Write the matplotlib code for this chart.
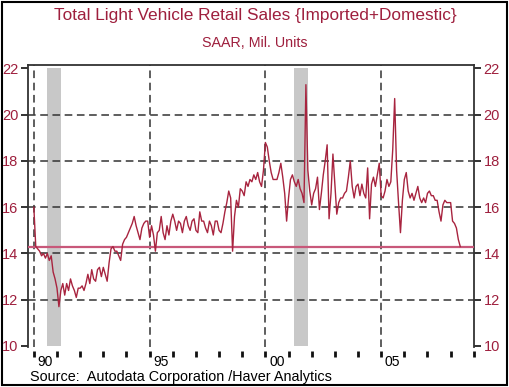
import numpy as np
import matplotlib
matplotlib.use("Agg")
import matplotlib.pyplot as plt
from matplotlib.patches import Rectangle

plt.rcParams['font.family'] = ['Liberation Sans', 'DejaVu Sans']

# monthly SAAR, mil. units, Jan 1990 .. Jun 2008
sales_1990 = [16.0, 14.3, 14.2, 14.1, 13.9, 14.0, 13.8, 14.0, 13.7, 13.9, 13.2, 12.9]
sales_1991 = [12.5, 11.7, 12.4, 12.7, 12.2, 12.7, 12.4, 12.9, 12.6, 12.4, 12.1, 12.5]
sales_1992 = [12.5, 12.6, 12.4, 12.7, 13.1, 12.7, 13.3, 12.9, 12.8, 13.3, 13.4, 13.0]
sales_1993 = [13.4, 13.1, 12.8, 13.6, 14.2, 14.3, 14.1, 14.1, 13.9, 13.7, 14.4, 14.6]
sales_1994 = [14.7, 14.9, 15.1, 15.3, 15.6, 15.2, 14.9, 14.6, 15.1, 15.3, 15.4, 15.4]
sales_1995 = [14.7, 15.2, 14.8, 14.1, 14.9, 15.0, 15.6, 14.9, 14.6, 15.2, 14.8, 15.4]
sales_1996 = [15.7, 15.4, 15.0, 15.4, 15.3, 14.9, 15.4, 15.6, 15.2, 15.0, 15.4, 15.5]
sales_1997 = [15.0, 14.9, 15.8, 15.4, 15.4, 15.1, 14.9, 15.4, 15.2, 14.8, 15.4, 15.4]
sales_1998 = [15.0, 14.9, 15.3, 15.8, 16.2, 16.7, 16.4, 14.1, 15.6, 16.3, 16.0, 16.8]
sales_1999 = [16.7, 16.5, 17.1, 16.9, 17.2, 17.1, 17.4, 17.2, 17.5, 17.1, 16.9, 17.6]
sales_2000 = [18.8, 18.6, 18.0, 17.5, 17.2, 17.2, 17.2, 17.5, 17.9, 17.3, 16.6, 15.4]
sales_2001 = [16.4, 17.2, 17.4, 17.1, 16.9, 17.2, 16.8, 16.6, 16.2, 21.3, 17.6, 16.7]
sales_2002 = [16.1, 16.6, 16.8, 17.3, 15.9, 16.6, 17.4, 18.0, 18.7, 15.5, 16.6, 18.3]
sales_2003 = [17.0, 15.7, 16.2, 16.4, 16.4, 16.6, 16.7, 17.3, 18.0, 16.9, 16.4, 16.9]
sales_2004 = [17.0, 16.5, 17.0, 16.6, 16.4, 17.7, 15.5, 17.0, 17.3, 16.9, 17.4, 17.9]
sales_2005 = [16.5, 16.4, 16.7, 17.2, 16.9, 17.1, 18.5, 20.7, 17.6, 16.2, 14.9, 16.3]
sales_2006 = [17.2, 17.5, 16.7, 16.4, 16.6, 16.3, 16.6, 16.9, 16.4, 16.2, 16.4, 16.2]
sales_2007 = [16.6, 16.7, 16.5, 16.5, 16.3, 16.3, 15.8, 15.4, 16.1, 16.3, 16.2, 16.2]
sales_2008 = [16.2, 15.4, 15.3, 15.1, 14.6, 14.3]

start_year = 1990
latest = 14.3
recessions = [(1990.58, 1991.17), (2001.25, 2001.86)]
year_labels = ['90', '95', '00', '05']

sales = np.array(sales_1990 + sales_1991 + sales_1992 + sales_1993 + sales_1994 +
                 sales_1995 + sales_1996 + sales_1997 + sales_1998 + sales_1999 +
                 sales_2000 + sales_2001 + sales_2002 + sales_2003 + sales_2004 +
                 sales_2005 + sales_2006 + sales_2007 + sales_2008)
t = start_year + np.arange(len(sales)) / 12.0

red = '#9e1f3d'
fig = plt.figure(figsize=(5.10, 3.87), dpi=100)
ax = fig.add_axes([0.055, 0.103, 0.874, 0.729])

# recession bars
for a, b in recessions:
    ax.fill_between([a, b], 10, 22, color='#c8c8c8', lw=0, zorder=1)

# grid
for yv in [12, 14, 16, 18, 20]:
    ax.axhline(yv, color='#333333', lw=1.1, ls=(0, (5, 3)), zorder=2)
for xv in [1990, 1995, 2000, 2005]:
    ax.axvline(xv, color='#333333', lw=1.1, ls=(0, (5, 3)), zorder=2)

ax.axhline(latest, color='#c8587a', lw=1.6, zorder=3)
ax.plot(t, sales, color='#a8243f', lw=1.0, zorder=4)

ax.set_xlim(1989.75, 2009.0)
ax.set_ylim(9.95, 22.15)

ax.set_yticks([10, 12, 14, 16, 18, 20, 22])
ax.tick_params(axis='y', which='both', left=True, right=True, labelleft=True,
               labelright=True, direction='out', length=5, width=1.3,
               labelsize=10.5, labelcolor=red, color='#222222', pad=2)
ax.set_xticks(np.arange(1990, 2010))
ax.set_xticklabels([])
ax.set_xticks([1990.5, 1995.5, 2000.5, 2005.5], minor=True)
ax.set_xticklabels(year_labels, minor=True)
ax.tick_params(axis='x', which='major', direction='out', length=4, width=2,
               color='#111111')
ax.tick_params(axis='x', which='minor', length=0, labelsize=10, pad=2.5)
ax.spines['bottom'].set_position(('outward', 3))
ax.spines['bottom'].set_visible(False)
for s in ['left', 'right', 'top']:
    ax.spines[s].set_color('#333333')
    ax.spines[s].set_linewidth(1.3)

fig.text(0.5, 0.961, 'Total Light Vehicle Retail Sales {Imported+Domestic}',
         ha='center', va='center', fontsize=12.4, color=red)
fig.text(0.5, 0.889, 'SAAR, Mil. Units', ha='center', va='center',
         fontsize=10.3, color=red)
fig.text(0.058, 0.026, 'Source:  Autodata Corporation /Haver Analytics',
         ha='left', va='center', fontsize=10.4, color='black')

fig.patches.append(Rectangle((0.004, 0.005), 0.99, 0.99, transform=fig.transFigure,
                             fill=False, ec='black', lw=1.5))

fig.savefig('out.png', dpi=100)
